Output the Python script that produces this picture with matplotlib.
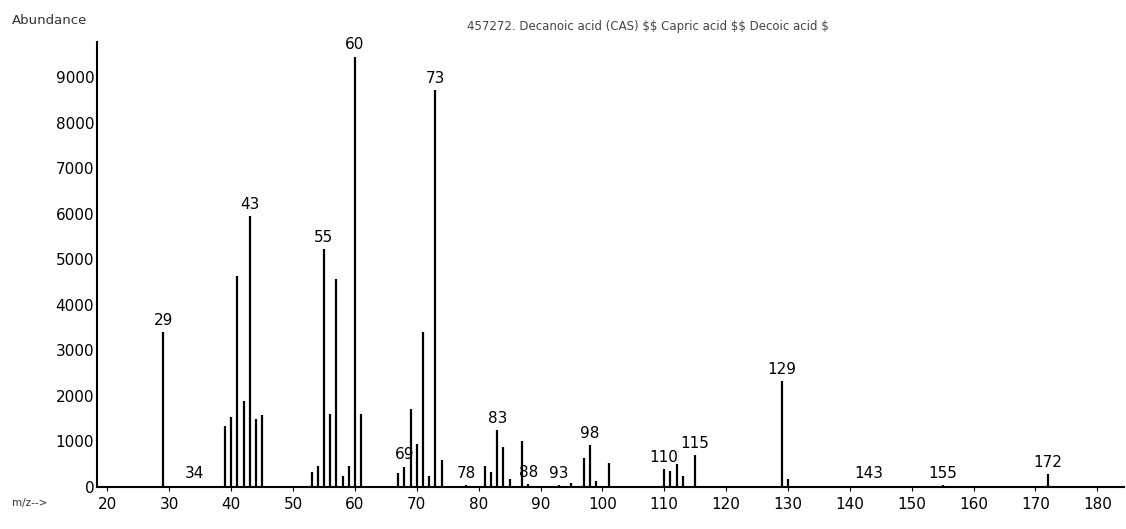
import matplotlib
matplotlib.use("Agg")
from matplotlib import pyplot as plt

# peak list (m/z, abundance)
mz = [29, 34, 39, 40, 41, 42, 43, 44, 45, 53, 54, 55, 56, 57, 58, 59, 60, 61,
      67, 68, 69, 70, 71, 72, 73, 74, 78, 81, 82, 83, 84, 85, 87, 88, 93, 95,
      97, 98, 99, 101, 110, 111, 112, 113, 115, 129, 130, 143, 155, 172]
abund = [3400, 30, 1350, 1530, 4630, 1880, 5950, 1500, 1570, 330, 470, 5220, 1600, 4560, 250, 470, 9450, 1600,
         300, 450, 1720, 950, 3400, 250, 8720, 600, 40, 470, 330, 1250, 880, 180, 1020, 60, 50, 90,
         640, 920, 130, 520, 400, 350, 500, 250, 700, 2330, 180, 30, 40, 280]

# labelled peaks and the text printed above them
label_mz = [29, 34, 43, 55, 60, 68, 73, 78, 83, 88, 93, 98, 110, 115, 129, 143, 155, 172]
label_txt = ['29', '34', '43', '55', '60', '69', '73', '78', '83', '88', '93', '98', '110', '115', '129', '143', '155', '172']

xticks = list(range(20, 181, 10))
yticks = list(range(0, 9001, 1000))

title = '457272. Decanoic acid (CAS) $$ Capric acid $$ Decoic acid $'

fig = plt.figure(figsize=(11.26, 5.29), dpi=100)
ax = fig.add_axes([0.0861, 0.0794, 0.912, 0.8412])

ax.vlines(mz, 0, abund, colors='black', linewidth=1.6)

h = dict(zip(mz, abund))
for m, t in zip(label_mz, label_txt):
    ax.annotate(t, (m, h[m]), xytext=(0, 3), textcoords='offset points',
                ha='center', va='bottom', fontsize=11)

ax.set_xlim(18.3, 184.3)
ax.set_ylim(0, 9770)
ax.set_xticks(xticks)
ax.set_yticks(yticks)
ax.tick_params(axis='x', direction='out', length=3, pad=4, labelsize=11)
ax.tick_params(axis='y', length=0, pad=2, labelsize=11)

for s in ['top', 'right']:
    ax.spines[s].set_visible(False)
ax.spines['left'].set_linewidth(1.5)
ax.spines['bottom'].set_linewidth(1.5)

fig.text(0.011, 0.962, 'Abundance', fontsize=9.5, color='#333333', va='center', ha='left')
fig.text(0.575, 0.949, title, fontsize=8.5, color='#444444', va='center', ha='center')
fig.text(0.011, 0.049, 'm/z-->', fontsize=7.5, color='#333333', va='center', ha='left')

fig.savefig('out.png', dpi=100)
